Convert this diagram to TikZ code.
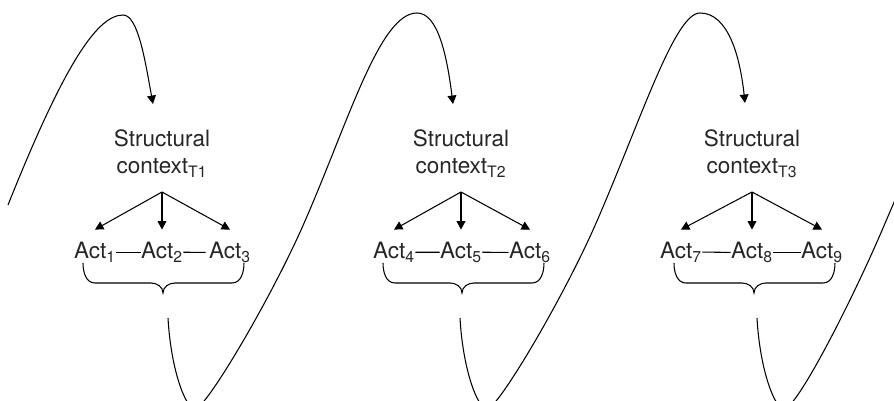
\documentclass[tikz,border=0pt]{standalone}
\usepackage{fontspec}
\setmainfont{TeX Gyre Heros}
\usetikzlibrary{arrows.meta}

\begin{document}
\begin{tikzpicture}[x=0.02cm, y=0.02cm, line width=0.6pt,
        >={Triangle[length=4.8pt,width=5pt]},
        ctxbox/.style={align=center, inner sep=0pt, anchor=north, text=black!85,
            font=\fontsize{12.8}{15.3}\selectfont},
        act/.style={inner xsep=0pt, inner ysep=0.24cm, anchor=base, text=black!85,
            font=\fontsize{12.8}{15.3}\selectfont}]
        \useasboundingbox (0,0) rectangle (894,401);
        \clip (0,0) rectangle (894,401);

        % T1
        \node[ctxbox] (ctx1) at (162,272) {Structural\\context\textsubscript{T1}};
        \coordinate (f1) at (162,209);
        \node[act] (a1) at (95,142.5) {Act\textsubscript{1}};
        \node[act] (a2) at (162,142.5) {Act\textsubscript{2}};
        \node[act] (a3) at (230,142.5) {Act\textsubscript{3}};
        \draw[->] (f1) -- (a1.north);
        \draw[->] (f1) -- (a2.north);
        \draw[->] (f1) -- (a3.north);
        \draw (a1.east) -- (a2.west);
        \draw (a2.east) -- ([xshift=-0.06cm]a3.west);
        \draw (83,138) to[out=-90,in=180] (95,118) -- (151,118)
            to[out=0,in=90] (163,108) to[out=90,in=180] (175,118) -- (232,118)
            to[out=0,in=-90] (244,138);

        % T2
        \node[ctxbox] (ctx2) at (461,272) {Structural\\context\textsubscript{T2}};
        \coordinate (f2) at (461,209);
        \node[act] (a4) at (394,142.5) {Act\textsubscript{4}};
        \node[act] (a5) at (461,142.5) {Act\textsubscript{5}};
        \node[act] (a6) at (530,142.5) {Act\textsubscript{6}};
        \draw[->] (f2) -- (a4.north);
        \draw[->] (f2) -- (a5.north);
        \draw[->] (f2) -- (a6.north);
        \draw (a4.east) -- (a5.west);
        \draw (a5.east) -- (a6.west);
        \draw (383,138) to[out=-90,in=180] (395,118) -- (450,118)
            to[out=0,in=90] (462,108) to[out=90,in=180] (474,118) -- (532,118)
            to[out=0,in=-90] (544,138);

        % T3
        \node[ctxbox] (ctx3) at (752,272) {Structural\\context\textsubscript{T3}};
        \coordinate (f3) at (752,209);
        \node[act] (a7) at (681,142.5) {Act\textsubscript{7}};
        \node[act] (a8) at (752,142.5) {Act\textsubscript{8}};
        \node[act] (a9) at (822,142.5) {Act\textsubscript{9}};
        \draw[->] (f3) -- (a7.north);
        \draw[->] (f3) -- (a8.north);
        \draw[->] (f3) -- (a9.north);
        \draw (a7.east) -- (a8.west);
        \draw (a8.east) -- (a9.west);
        \draw (674,138) to[out=-90,in=180] (686,118) -- (742,118)
            to[out=0,in=90] (754,108) to[out=90,in=180] (766,118) -- (823,118)
            to[out=0,in=-90] (835,138);

        % the wave through time
        \coordinate (w0) at (8,196);
        \coordinate (t1) at (153,297);
        \coordinate (b1) at (168,83);
        \coordinate (t2) at (453,297);
        \coordinate (b2) at (460,83);
        \coordinate (t3) at (745,298);
        \coordinate (b3) at (757,83);
        \coordinate (w4) at (905,224);
        \draw[->] (w0) .. controls (60,326) and (95,386) .. (123,386)
            .. controls (138,386) and (145,341) .. (t1);
        \draw[->] (b1) .. controls (171,30) and (186,-8) .. (195,-8)
            .. controls (206,-8) and (273,106) .. (305,180)
            .. controls (349,281) and (380,388) .. (417,388)
            .. controls (438,388) and (447,345) .. (t2);
        \draw[->] (b2) .. controls (463,30) and (478,-8) .. (487,-8)
            .. controls (498,-8) and (565,106) .. (597,180)
            .. controls (642,284) and (675,388) .. (700,388)
            .. controls (728,388) and (740,345) .. (t3);
        \draw (b3) .. controls (760,30) and (775,-8) .. (784,-8)
            .. controls (797,-8) and (855,106) .. (886,180) -- (w4);
\end{tikzpicture}
\end{document}
